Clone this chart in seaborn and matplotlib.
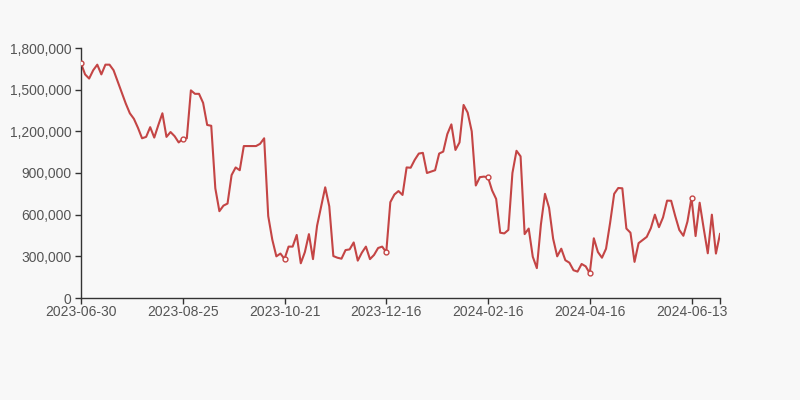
import matplotlib
matplotlib.use("Agg")
import matplotlib.pyplot as plt
import seaborn as sns
import pandas as pd
from matplotlib.ticker import FuncFormatter

# values, one per category step
values = [
    1690000, 1610000, 1580000, 1640000, 1680000, 1610000, 1680000, 1680000, 1640000, 1560000,
    1480000, 1400000, 1330000, 1290000, 1225000, 1150000, 1160000, 1230000, 1155000, 1245000,
    1330000, 1160000, 1195000, 1165000, 1120000, 1145000,
    1150000, 1495000, 1470000, 1470000, 1405000, 1246000, 1240000, 790000, 625000, 665000,
    680000, 885000, 940000, 920000, 1094000, 1094000, 1094000, 1094000, 1110000, 1150000,
    590000, 420000, 300000, 320000, 281000,
    370000, 370000, 454000, 250000, 330000, 460000, 280000, 520000, 660000, 797000,
    660000, 302000, 290000, 283000, 345000, 350000, 400000, 269000, 326000, 370000,
    280000, 310000, 360000, 370000, 329000,
    690000, 745000, 770000, 742000, 940000, 938000, 995000, 1040000, 1045000, 900000,
    910000, 920000, 1040000, 1054000, 1180000, 1250000, 1066000, 1120000, 1390000, 1335000,
    1200000, 810000, 870000, 874000, 869000,
    775000, 713000, 470000, 465000, 490000, 900000, 1060000, 1020000, 460000, 500000,
    297000, 215000, 530000, 750000, 650000, 427000, 300000, 355000, 272000, 254000,
    200000, 190000, 245000, 228000, 178000,
    430000, 331000, 290000, 355000, 541000, 750000, 792000, 790000, 500000, 470000,
    260000, 395000, 418000, 440000, 502000, 600000, 510000, 580000, 701000, 700000,
    590000, 490000, 448000, 550000, 722000, 446000, 686000, 500000, 322000, 600000,
    320000, 461000,
]
tick_labels = ["2023-06-30", "2023-08-25", "2023-10-21", "2023-12-16",
               "2024-02-16", "2024-04-16", "2024-06-13"]
label_step = 25

df = pd.DataFrame({"idx": range(len(values)), "value": values})
line_color = "#c44545"
text_color = "#555555"
axis_color = "#333333"

plt.rcParams["font.family"] = ["Liberation Sans", "DejaVu Sans"]
fig = plt.figure(figsize=(8, 4), dpi=100, facecolor="#f8f8f8")
ax = fig.add_axes([0.10125, 0.255, 0.79875, 0.625])
ax.set_facecolor("#f8f8f8")

sns.lineplot(data=df, x="idx", y="value", ax=ax, color=line_color, linewidth=1.5)

# hollow markers at the labelled categories
marked = df[df["idx"] % label_step == 0]
ax.plot(marked["idx"], marked["value"], linestyle="none", marker="o",
        markersize=3.5, markerfacecolor="white", markeredgecolor=line_color,
        markeredgewidth=1.0, zorder=5)

ax.set_xlim(0, len(values) - 1)
ax.set_ylim(0, 1800000)
ax.set_yticks(range(0, 1800001, 300000))
ax.yaxis.set_major_formatter(FuncFormatter(lambda v, p: f"{int(v):,}"))

xt = [i * label_step for i in range(len(tick_labels))] + [len(values) - 1]
ax.set_xticks(xt)
ax.set_xticklabels(tick_labels + [""])

ax.set_xlabel("")
ax.set_ylabel("")
for side in ["top", "right"]:
    ax.spines[side].set_visible(False)
for side in ["left", "bottom"]:
    ax.spines[side].set_color(axis_color)
    ax.spines[side].set_linewidth(1.0)
ax.tick_params(axis="both", colors=axis_color, labelcolor=text_color,
               labelsize=10, length=4, width=1.0, direction="out")
ax.tick_params(axis="x", pad=1)
ax.tick_params(axis="y", pad=3)
ax.grid(False)

fig.savefig("out.png", dpi=100, facecolor=fig.get_facecolor())
